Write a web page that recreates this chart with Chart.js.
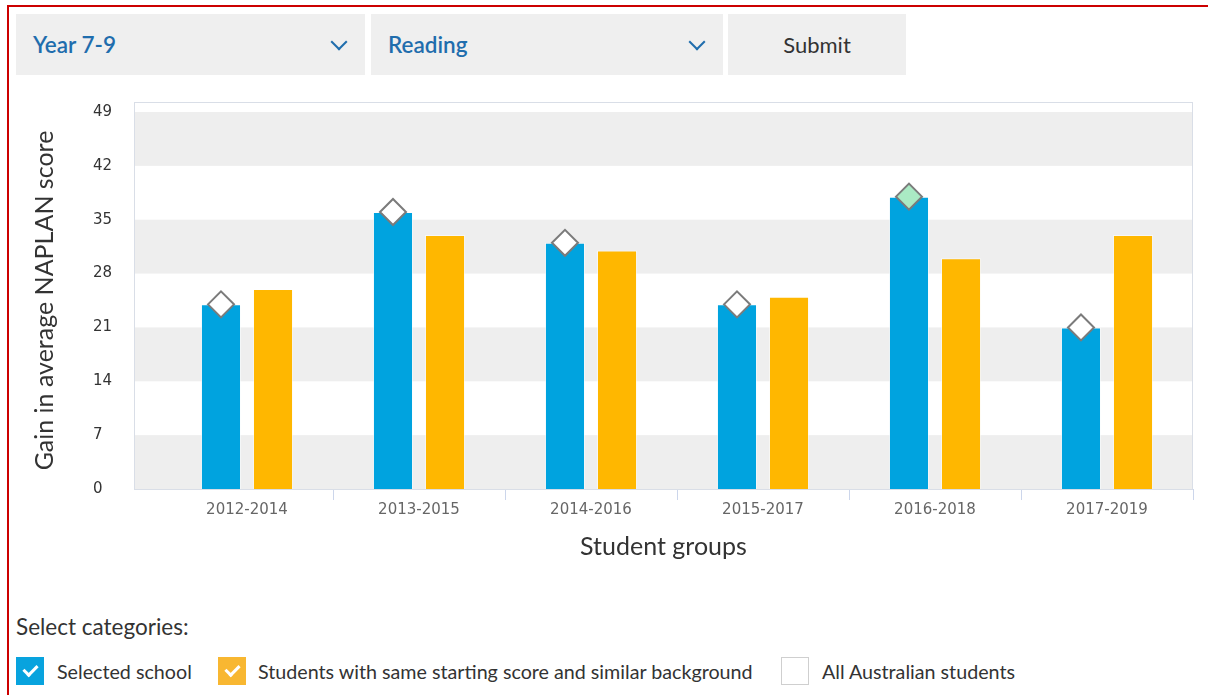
<!DOCTYPE html>
<html>
<head>
<meta charset="utf-8">
<script src="https://cdn.jsdelivr.net/npm/chart.js@4"></script>
<style>
  body { margin: 0; width: 1208px; height: 695px; overflow: hidden; background: #fff; font-family: Lato, "Open Sans", sans-serif; }
  .frame { position: absolute; left: 7px; top: 5px; width: 1210px; height: 720px; border: 2px solid #cc0000; box-sizing: border-box; }
  .select { position: absolute; top: 14px; height: 61px; background: #efefef; color: #1f6dad; font-size: 22.5px; font-weight: 600; line-height: 61px; box-sizing: border-box; padding-left: 17px; }
  .select .chev { position: absolute; right: 20px; top: 22px; width: 10px; height: 10px; border-right: 2px solid #1f6dad; border-bottom: 2px solid #1f6dad; transform: rotate(45deg); }
  .button { position: absolute; top: 14px; left: 728px; width: 178px; height: 61px; background: #efefef; color: #333; font-size: 22px; line-height: 61px; text-align: center; }
  #wrap { position: absolute; left: 0; top: 90px; width: 1208px; height: 480px; }
  .cats { position: absolute; left: 16px; top: 613px; font-size: 22.5px; color: #333; }
  .item { position: absolute; top: 657px; height: 29px; line-height: 29px; font-size: 19.7px; color: #333; }
  .box { position: absolute; left: 0; top: 0; width: 28px; height: 28px; box-sizing: border-box; }
  .box.on::after { content: ""; position: absolute; left: 10px; top: 5px; width: 6px; height: 11px; border-right: 3px solid #fff; border-bottom: 3px solid #fff; transform: rotate(45deg); }
  .item span { position: absolute; white-space: nowrap; }
</style>
</head>
<body>
<div class="frame"></div>
<div class="select" style="left:16px;width:349px;">Year 7-9<div class="chev"></div></div>
<div class="select" style="left:371px;width:352px;">Reading<div class="chev"></div></div>
<div class="button">Submit</div>

<div id="wrap"><canvas id="chart"></canvas></div>

<div class="cats">Select categories:</div>
<div class="item" style="left:16px;"><div class="box on" style="background:#08a3de;"></div><span style="left:41px;">Selected school</span></div>
<div class="item" style="left:218px;"><div class="box on" style="background:#f8b731;"></div><span style="left:40px;">Students with same starting score and similar background</span></div>
<div class="item" style="left:781px;"><div class="box" style="border:1px solid #cfcfcf;background:#fff;"></div><span style="left:41px;">All Australian students</span></div>

<script>
const groups = ["2012-2014", "2013-2015", "2014-2016", "2015-2017", "2016-2018", "2017-2019"];
const schoolGain = [24, 36, 32, 24, 38, 21];
const similarGain = [26, 33, 31, 25, 30, 33];
const markerHighlight = [false, false, false, false, true, false];
const yTicks = [0, 7, 14, 21, 28, 35, 42, 49];

const BLUE = "#00a3df";
const ORANGE = "#ffb700";
const GRID = "#ccd6eb";
const PLOT_EXTRA_LEFT = 27; // plot frame starts a bit before the first category

// plot background: alternating bands + frame, a bit wider than the category area
const plotBands = {
  id: "plotBands",
  afterLayout(chart) {
    // let the x axis (title + base line) span the whole frame
    chart.scales.x.left = chart.chartArea.left - PLOT_EXTRA_LEFT;
  },
  beforeDatasetsDraw(chart) {
    const { ctx, chartArea: a, scales: { y } } = chart;
    const left = a.left - PLOT_EXTRA_LEFT, top = a.top - 10;
    ctx.save();
    ctx.fillStyle = "#eeeeee";
    for (let i = 0; i + 1 < yTicks.length; i += 2) {
      const y1 = y.getPixelForValue(yTicks[i + 1]);
      const y0 = y.getPixelForValue(yTicks[i]);
      ctx.fillRect(left, y1, a.right - left, y0 - y1);
    }
    ctx.strokeStyle = "#d9dee7";
    ctx.lineWidth = 1;
    ctx.strokeRect(left + 0.5, top + 0.5, a.right - left - 1, a.bottom - top);
    ctx.restore();
  },
};

// put the diamonds over the school bars rather than the category centre
const markerOnBar = {
  id: "markerOnBar",
  afterDatasetsUpdate(chart) {
    const bars = chart.getDatasetMeta(0).data;
    const pts = chart.getDatasetMeta(2).data;
    pts.forEach((p, i) => { if (bars[i]) p.x = bars[i].x; });
  },
};

new Chart(document.getElementById("chart"), {
  type: "bar",
  data: {
    labels: groups,
    datasets: [
      {
        label: "Selected school",
        data: schoolGain,
        backgroundColor: BLUE,
        borderColor: "rgba(255,255,255,0.5)",
        borderWidth: 1,
        categoryPercentage: 0.605,
        barPercentage: 0.77,
        order: 1,
      },
      {
        label: "Students with same starting score and similar background",
        data: similarGain,
        backgroundColor: ORANGE,
        borderColor: "rgba(255,255,255,0.5)",
        borderWidth: 1,
        categoryPercentage: 0.605,
        barPercentage: 0.77,
        order: 1,
      },
      {
        type: "line",
        label: "marker",
        data: schoolGain,
        showLine: false,
        pointStyle: "rectRot",
        pointRadius: 13,
        pointHoverRadius: 13,
        pointBorderWidth: 2,
        pointBorderColor: "#7b7b7b",
        pointBackgroundColor: markerHighlight.map(h => (h ? "#aaeac4" : "#ffffff")),
        order: 0,
      },
    ],
  },
  options: {
    responsive: true,
    maintainAspectRatio: false,
    animation: false,
    layout: { padding: { top: 22, right: 15, bottom: 8, left: 0 } },
    plugins: {
      legend: { display: false },
      tooltip: { enabled: false },
    },
    scales: {
      x: {
        grid: {
          offset: true,
          drawOnChartArea: false,
          tickLength: 11,
          color: ctx => (ctx.index === 0 ? "transparent" : GRID),
        },
        border: { color: GRID },
        ticks: { font: { family: "DejaVu Sans", size: 15 }, color: "#666", padding: 1 },
        title: {
          display: true,
          text: "Student groups",
          font: { family: "Lato", size: 25 },
          color: "#333",
          padding: { top: 12, bottom: 0 },
        },
      },
      y: {
        min: 0,
        max: 49,
        weight: 0,
        afterBuildTicks: s => { s.ticks = yTicks.map(v => ({ value: v })); },
        afterFit: s => { s.width = 68; },
        grid: { display: false },
        border: { display: false },
        ticks: { font: { family: "DejaVu Sans", size: 15 }, color: "#333", crossAlign: "far" },
      },
      yTitle: {
        type: "linear",
        position: "left",
        weight: 1,
        afterFit: s => { s.width = 93; },
        grid: { display: false },
        border: { display: false },
        ticks: { display: false },
        title: {
          display: true,
          text: "Gain in average NAPLAN score",
          font: { family: "Lato", size: 25 },
          color: "#333",
          padding: { top: 30, bottom: 0 },
        },
      },
    },
  },
  plugins: [plotBands, markerOnBar],
});
</script>
</body>
</html>
